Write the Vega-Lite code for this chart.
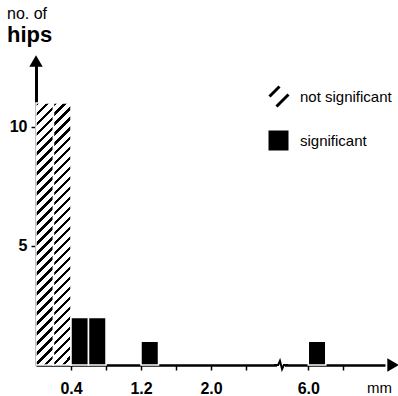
{
  "$schema": "https://vega.github.io/schema/vega-lite/v6.json",
  "width": 349,
  "height": 300,
  "autosize": "none",
  "padding": {"left": 36, "top": 65, "right": 13, "bottom": 31},
  "background": "white",
  "config": {"view": {"stroke": null}, "font": "Liberation Sans"},
  "title": {
    "text": "no. of",
    "subtitle": "hips",
    "anchor": "start",
    "frame": "group",
    "dx": -29,
    "offset": 9,
    "font": "Liberation Sans",
    "fontSize": 16,
    "fontWeight": "normal",
    "color": "black",
    "subtitleFont": "Liberation Sans",
    "subtitleFontSize": 22,
    "subtitleFontWeight": "bold",
    "subtitleColor": "black",
    "subtitlePadding": 3
  },
  "data": {
    "values": [
      {"start": 0.0, "end": 0.2, "count": 11, "group": "not significant"},
      {"start": 0.2, "end": 0.4, "count": 11, "group": "not significant"},
      {"start": 0.4, "end": 0.6, "count": 2, "group": "significant"},
      {"start": 0.6, "end": 0.8, "count": 2, "group": "significant"},
      {"start": 1.2, "end": 1.4, "count": 1, "group": "significant"},
      {"start": 6.0, "end": 6.2, "count": 1, "group": "significant"}
    ]
  },
  "layer": [
    {
      "transform": [{"filter": "datum.group === 'not significant'"}],
      "mark": {
        "type": "bar", "stroke": "white", "strokeWidth": 1.5,
        "fill": {
          "gradient": "linear",
          "x1": 0, "y1": 0, "x2": 0.071, "y2": 1.062,
          "stops": [
            {"offset": 0, "color": "black"}, {"offset": 0.0125, "color": "black"}, {"offset": 0.0125, "color": "white"},
            {"offset": 0.0357, "color": "white"}, {"offset": 0.0357, "color": "black"}, {"offset": 0.0482, "color": "black"}, {"offset": 0.0482, "color": "white"},
            {"offset": 0.0714, "color": "white"}, {"offset": 0.0714, "color": "black"}, {"offset": 0.0839, "color": "black"}, {"offset": 0.0839, "color": "white"},
            {"offset": 0.1071, "color": "white"}, {"offset": 0.1071, "color": "black"}, {"offset": 0.1196, "color": "black"}, {"offset": 0.1196, "color": "white"},
            {"offset": 0.1429, "color": "white"}, {"offset": 0.1429, "color": "black"}, {"offset": 0.1554, "color": "black"}, {"offset": 0.1554, "color": "white"},
            {"offset": 0.1786, "color": "white"}, {"offset": 0.1786, "color": "black"}, {"offset": 0.1911, "color": "black"}, {"offset": 0.1911, "color": "white"},
            {"offset": 0.2143, "color": "white"}, {"offset": 0.2143, "color": "black"}, {"offset": 0.2268, "color": "black"}, {"offset": 0.2268, "color": "white"},
            {"offset": 0.25, "color": "white"}, {"offset": 0.25, "color": "black"}, {"offset": 0.2625, "color": "black"}, {"offset": 0.2625, "color": "white"},
            {"offset": 0.2857, "color": "white"}, {"offset": 0.2857, "color": "black"}, {"offset": 0.2982, "color": "black"}, {"offset": 0.2982, "color": "white"},
            {"offset": 0.3214, "color": "white"}, {"offset": 0.3214, "color": "black"}, {"offset": 0.3339, "color": "black"}, {"offset": 0.3339, "color": "white"},
            {"offset": 0.3571, "color": "white"}, {"offset": 0.3571, "color": "black"}, {"offset": 0.3696, "color": "black"}, {"offset": 0.3696, "color": "white"},
            {"offset": 0.3929, "color": "white"}, {"offset": 0.3929, "color": "black"}, {"offset": 0.4054, "color": "black"}, {"offset": 0.4054, "color": "white"},
            {"offset": 0.4286, "color": "white"}, {"offset": 0.4286, "color": "black"}, {"offset": 0.4411, "color": "black"}, {"offset": 0.4411, "color": "white"},
            {"offset": 0.4643, "color": "white"}, {"offset": 0.4643, "color": "black"}, {"offset": 0.4768, "color": "black"}, {"offset": 0.4768, "color": "white"},
            {"offset": 0.5, "color": "white"}, {"offset": 0.5, "color": "black"}, {"offset": 0.5125, "color": "black"}, {"offset": 0.5125, "color": "white"},
            {"offset": 0.5357, "color": "white"}, {"offset": 0.5357, "color": "black"}, {"offset": 0.5482, "color": "black"}, {"offset": 0.5482, "color": "white"},
            {"offset": 0.5714, "color": "white"}, {"offset": 0.5714, "color": "black"}, {"offset": 0.5839, "color": "black"}, {"offset": 0.5839, "color": "white"},
            {"offset": 0.6071, "color": "white"}, {"offset": 0.6071, "color": "black"}, {"offset": 0.6196, "color": "black"}, {"offset": 0.6196, "color": "white"},
            {"offset": 0.6429, "color": "white"}, {"offset": 0.6429, "color": "black"}, {"offset": 0.6554, "color": "black"}, {"offset": 0.6554, "color": "white"},
            {"offset": 0.6786, "color": "white"}, {"offset": 0.6786, "color": "black"}, {"offset": 0.6911, "color": "black"}, {"offset": 0.6911, "color": "white"},
            {"offset": 0.7143, "color": "white"}, {"offset": 0.7143, "color": "black"}, {"offset": 0.7268, "color": "black"}, {"offset": 0.7268, "color": "white"},
            {"offset": 0.75, "color": "white"}, {"offset": 0.75, "color": "black"}, {"offset": 0.7625, "color": "black"}, {"offset": 0.7625, "color": "white"},
            {"offset": 0.7857, "color": "white"}, {"offset": 0.7857, "color": "black"}, {"offset": 0.7982, "color": "black"}, {"offset": 0.7982, "color": "white"},
            {"offset": 0.8214, "color": "white"}, {"offset": 0.8214, "color": "black"}, {"offset": 0.8339, "color": "black"}, {"offset": 0.8339, "color": "white"},
            {"offset": 0.8571, "color": "white"}, {"offset": 0.8571, "color": "black"}, {"offset": 0.8696, "color": "black"}, {"offset": 0.8696, "color": "white"},
            {"offset": 0.8929, "color": "white"}, {"offset": 0.8929, "color": "black"}, {"offset": 0.9054, "color": "black"}, {"offset": 0.9054, "color": "white"},
            {"offset": 0.9286, "color": "white"}, {"offset": 0.9286, "color": "black"}, {"offset": 0.9411, "color": "black"}, {"offset": 0.9411, "color": "white"},
            {"offset": 0.9643, "color": "white"}, {"offset": 0.9643, "color": "black"}, {"offset": 0.9768, "color": "black"}, {"offset": 0.9768, "color": "white"},
            {"offset": 1, "color": "white"}
          ]
        }
      },
      "encoding": {
        "x": {
          "field": "start",
          "type": "quantitative",
          "scale": {"domain": [0, 2.8, 5.75, 6.877], "range": [0, 245, 250.4, 349], "nice": false, "zero": false},
          "axis": {
            "values": [0.4, 0.8, 1.2, 1.6, 2.0, 2.4, 6.0, 6.4],
            "labelExpr": "indexof([0.4, 1.2, 2, 6], datum.value) >= 0 ? format(datum.value, '.1f') : ''",
            "grid": false,
            "domainColor": "black",
            "domainWidth": 2.5,
            "tickColor": "black",
            "tickWidth": 1.5,
            "tickSize": 5,
            "labelPadding": 10,
            "labelFont": "Liberation Sans",
            "labelFontSize": 16,
            "labelFontWeight": "bold",
            "labelColor": "black",
            "labelFlush": false,
            "labelOverlap": false,
            "title": "mm",
            "titleFont": "Liberation Sans",
            "titleFontSize": 15,
            "titleFontWeight": "normal",
            "titleColor": "black",
            "titleX": 343,
            "titleY": 22,
            "titleAlign": "center",
            "titleBaseline": "middle"
          }
        },
        "x2": {"field": "end"},
        "y": {
          "field": "count",
          "type": "quantitative",
          "scale": {"domain": [0, 12.6], "nice": false, "zero": true},
          "axis": {
            "values": [5, 10],
            "grid": false,
            "domainColor": "black",
            "domainWidth": 3,
            "tickColor": "black",
            "tickWidth": 1.5,
            "tickSize": 5,
            "labelPadding": 4,
            "labelFont": "Liberation Sans",
            "labelFontSize": 16,
            "labelFontWeight": "bold",
            "labelColor": "black",
            "title": null
          }
        },
        "y2": {"datum": 0}
      }
    },
    {
      "transform": [{"filter": "datum.group === 'significant'"}],
      "mark": {"type": "bar", "stroke": "white", "strokeWidth": 1.5, "fill": "black"},
      "encoding": {
        "x": {"field": "start", "type": "quantitative"},
        "x2": {"field": "end"},
        "y": {"field": "count", "type": "quantitative"},
        "y2": {"datum": 0}
      }
    },
    {
      "mark": {"type": "point", "opacity": 0, "size": 1, "filled": true, "strokeWidth": 3},
      "encoding": {
        "x": {"field": "start", "type": "quantitative"},
        "y": {"field": "count", "type": "quantitative"},
        "shape": {
          "field": "group",
          "type": "nominal",
          "scale": {"domain": ["not significant", "significant"], "range": ["M-0.9,0 L0.1,-1 M-0.2,1 L1,-0.2", "square"]},
          "legend": {
            "orient": "none",
            "legendX": 231,
            "legendY": 20,
            "title": null,
            "padding": 0,
            "symbolSize": 400,
            "symbolOpacity": 1,
            "symbolStrokeWidth": 3,
            "rowPadding": 11,
            "labelOffset": 10,
            "labelFont": "Liberation Sans",
            "labelFontSize": 15,
            "labelColor": "black"
          }
        },
        "fill": {
          "field": "group",
          "type": "nominal",
          "scale": {"domain": ["not significant", "significant"], "range": ["transparent", "black"]},
          "legend": {
            "orient": "none",
            "legendX": 231,
            "legendY": 20,
            "title": null,
            "padding": 0,
            "symbolSize": 400,
            "symbolOpacity": 1,
            "symbolStrokeWidth": 3,
            "rowPadding": 11,
            "labelOffset": 10,
            "labelFont": "Liberation Sans",
            "labelFontSize": 15,
            "labelColor": "black"
          }
        },
        "stroke": {
          "field": "group",
          "type": "nominal",
          "scale": {"domain": ["not significant", "significant"], "range": ["black", "transparent"]},
          "legend": {
            "orient": "none",
            "legendX": 231,
            "legendY": 20,
            "title": null,
            "padding": 0,
            "symbolSize": 400,
            "symbolOpacity": 1,
            "symbolStrokeWidth": 3,
            "rowPadding": 11,
            "labelOffset": 10,
            "labelFont": "Liberation Sans",
            "labelFontSize": 15,
            "labelColor": "black"
          }
        }
      }
    },
    {
      "data": {"values": [{}]},
      "mark": {"type": "point", "shape": "M-1,-0.5 L1,-0.5 L1,0.5 L-1,0.5 Z", "filled": true, "fill": "white", "size": 64, "opacity": 1},
      "encoding": {
        "x": {"datum": 2.8, "type": "quantitative"},
        "y": {"datum": 0, "type": "quantitative"}
      }
    },
    {
      "data": {"values": [{}]},
      "mark": {"type": "point", "shape": "M-1,0 L-0.4,0 L-0.15,-0.6 L0.15,0.6 L0.4,0 L1,0", "filled": false, "stroke": "black", "strokeWidth": 2, "size": 196, "opacity": 1},
      "encoding": {
        "x": {"datum": 2.8, "type": "quantitative"},
        "y": {"datum": 0, "type": "quantitative"}
      }
    },
    {
      "data": {"values": [{}]},
      "mark": {"type": "point", "shape": "triangle-up", "filled": true, "fill": "black", "size": 180, "opacity": 1},
      "encoding": {
        "x": {"datum": 0, "type": "quantitative"},
        "y": {"datum": 12.77, "type": "quantitative"}
      }
    },
    {
      "data": {"values": [{}]},
      "mark": {"type": "point", "shape": "triangle-right", "filled": true, "fill": "black", "size": 180, "opacity": 1},
      "encoding": {
        "x": {"datum": 6.97, "type": "quantitative"},
        "y": {"datum": 0, "type": "quantitative"}
      }
    }
  ]
}
